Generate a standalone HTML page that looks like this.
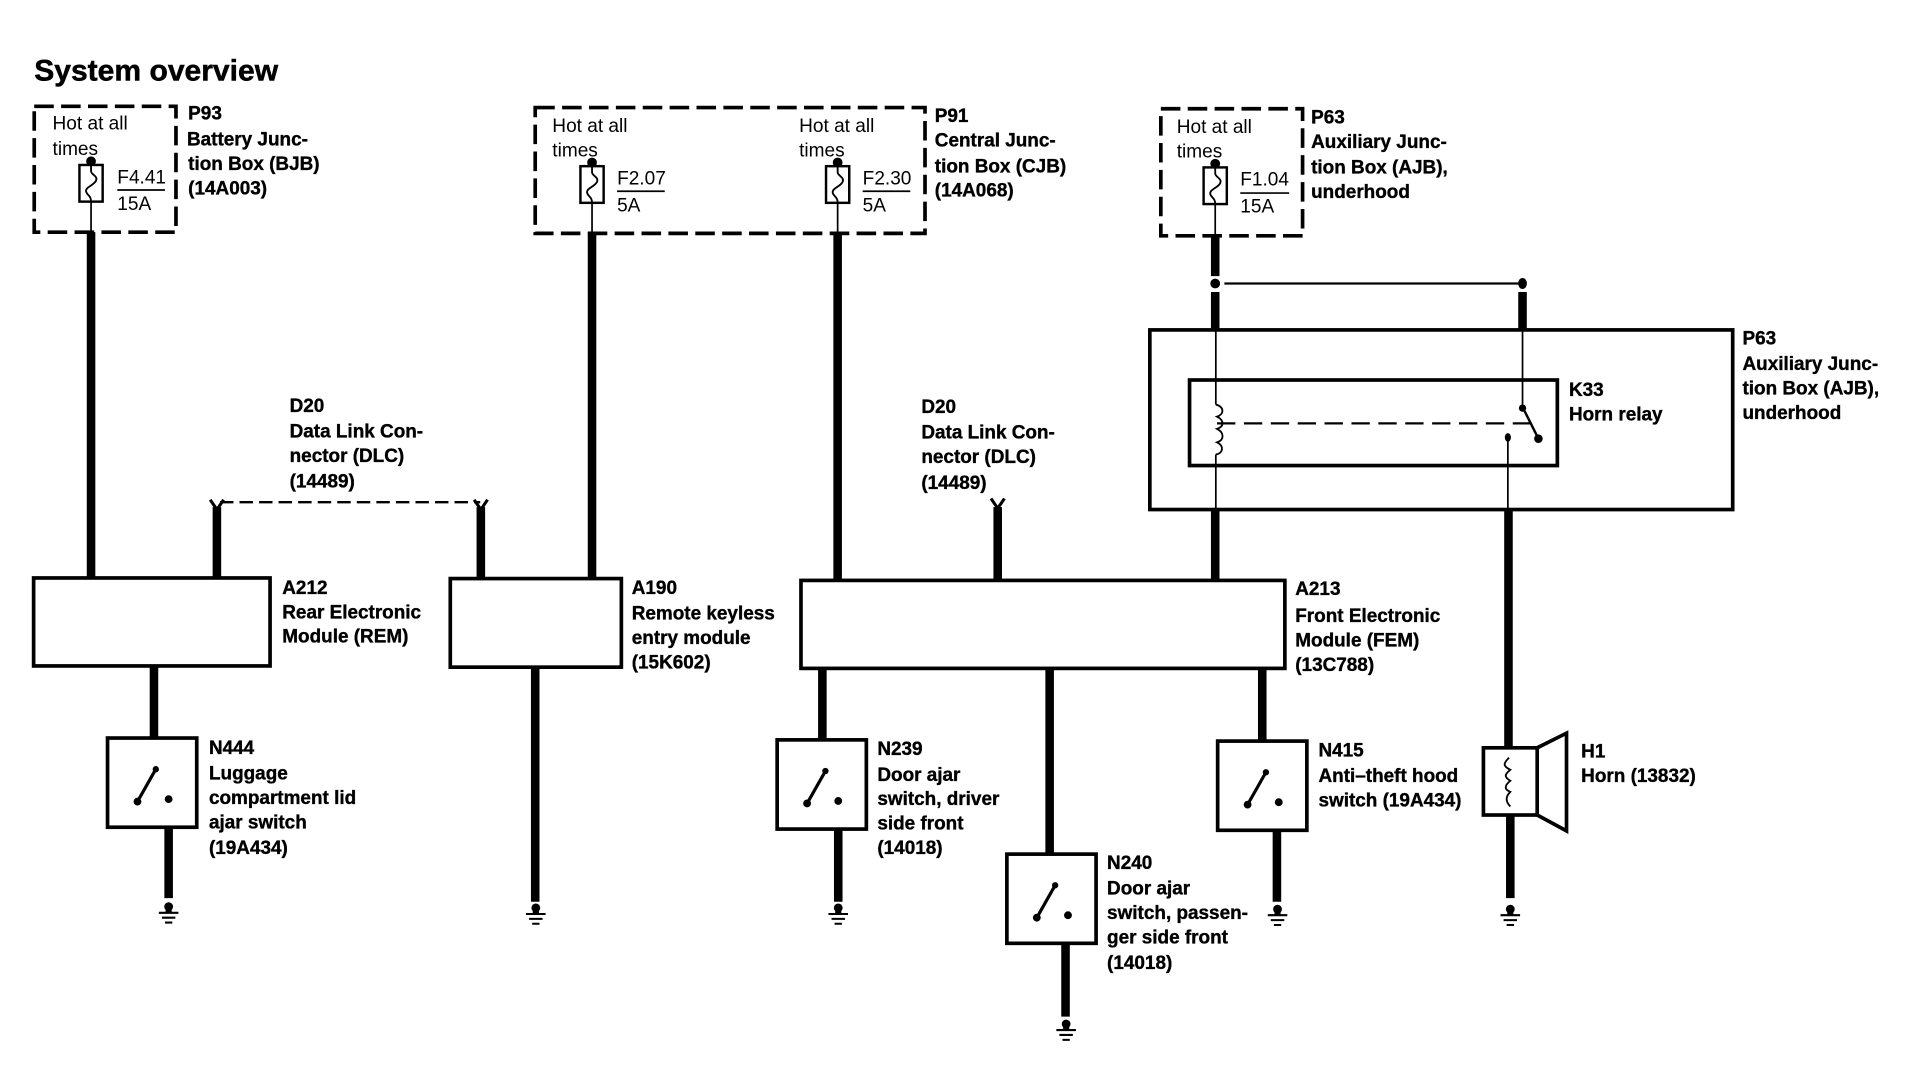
<!DOCTYPE html>
<html><head><meta charset="utf-8"><style>
html,body{margin:0;padding:0;background:#fff;width:1916px;height:1088px;overflow:hidden}
svg{display:block}
text{font-family:"Liberation Sans",sans-serif;font-size:15.6px;fill:#000}
text.b{font-weight:bold;font-size:15.5px;stroke:#000;stroke-width:.3px}
text.t{font-weight:bold;font-size:24.6px;stroke:#000;stroke-width:.4px}
.w{stroke:#000;stroke-width:7;fill:none}
.m{stroke:#000;stroke-width:1.4;fill:none}
.x{stroke:#000;stroke-width:3;fill:none}
.d{stroke:#000;stroke-width:3;fill:none;stroke-dasharray:16 6}
</style></head><body>
<svg width="1916" height="1088" viewBox="0 0 1568 890.4" xmlns="http://www.w3.org/2000/svg">
<defs>
<g id="fuse"><circle cx="0" cy="-3" r="4" fill="#000"/><rect x="-9.5" y="0" width="19" height="30" fill="#fff" stroke="#000" stroke-width="2"/><path d="M0 0V5C0 8 6 9 4 13C2 17 -5 18 -4 22C-3 25 0 25 0 30" fill="none" stroke="#000" stroke-width="1.5"/></g>
<g id="gnd"><circle cx="0" cy="-3" r="3.6" fill="#000"/><rect x="-2.5" y="-3" width="5" height="5" fill="#000"/><path d="M-8 2H8M-5.5 6H5.5M-3 10H3" stroke="#000" stroke-width="1.7" fill="none"/></g>
<g id="sw"><rect x="0" y="0" width="73" height="73" fill="#fff" stroke="#000" stroke-width="3"/><path d="M24.500 52L39.500 25.500" stroke="#000" stroke-width="2.600"/><circle cx="24.500" cy="52" r="3.200" fill="#000"/><circle cx="39.500" cy="25.500" r="2.600" fill="#000"/><circle cx="50" cy="50" r="3.200" fill="#000"/></g>
</defs>

<text class="t" x="28" y="66">System overview</text>

<!-- thick wires -->
<path class="w" d="M74.500 190V473M177.500 415V473M393.500 415V473M484.500 191V473M685.500 191V475M816.500 415V475M994.500 193V226M994.500 239V270M994.500 417V475M1246 239V270M1234.500 417V612M126 545V604M138 677V735M438 546V738M673 547V605M686 679V738M859 547V699M872 772V832M1033 547V606M1045 680V738M1236 667V735"/>

<!-- data link forks -->
<path d="M172 409L177.500 417L183 409M388 409L393.500 417L399 409M811 408L816.500 416L822 408" stroke="#000" stroke-width="2.500" fill="none"/>
<path d="M180 411H393" stroke="#000" stroke-width="2" stroke-dasharray="11 5" fill="none"/>

<!-- fused boxes -->
<rect class="d" x="28" y="87" width="116" height="103"/>
<rect class="d" x="438" y="88" width="319" height="103"/>
<rect class="d" x="950" y="89" width="116" height="104"/>

<path class="m" d="M74.500 165V190M484.500 166V191M685.500 166V191M994.500 167V193"/>
<use href="#fuse" x="74.500" y="135"/>
<use href="#fuse" x="484.500" y="136"/>
<use href="#fuse" x="685.500" y="136"/>
<use href="#fuse" x="994.500" y="137"/>

<path class="m" d="M96 155.500H135M505 156.500H544M706 156.500H745M1015 158H1055"/>
<text x="43" y="106">Hot at all</text><text x="43" y="127">times</text>
<text x="96" y="150">F4.41</text><text x="96" y="172">15A</text>
<text x="452" y="108">Hot at all</text><text x="452" y="128">times</text>
<text x="654" y="108">Hot at all</text><text x="654" y="128">times</text>
<text x="505" y="151">F2.07</text><text x="505" y="173">5A</text>
<text x="706" y="151">F2.30</text><text x="706" y="173">5A</text>
<text x="963" y="109">Hot at all</text><text x="963" y="129">times</text>
<text x="1015" y="152">F1.04</text><text x="1015" y="174">15A</text>

<!-- relay splice -->
<circle cx="994.500" cy="232" r="4" fill="#000"/>
<ellipse cx="1246" cy="232" rx="3.600" ry="4.500" fill="#000"/>
<path d="M1002 232H1243" stroke="#000" stroke-width="1.800" fill="none"/>

<!-- P63 box and relay -->
<rect class="x" x="941" y="270" width="477" height="147"/>
<rect class="x" x="973.500" y="311" width="301" height="70"/>
<path class="m" d="M995 270V331M995 372V417M1246 270V333M1234 358V417"/>
<path d="M995 331C1002 333 1002 339 996 341C1002 344 1002 349 996 351C1002 354 1002 360 996 362C1002 365 1001 371 995 372" fill="none" stroke="#000" stroke-width="1.500"/>
<path d="M996 346.500H1252" stroke="#000" stroke-width="1.800" stroke-dasharray="15 7" fill="none"/>
<path d="M1246 333L1259 359" stroke="#000" stroke-width="2"/>
<circle cx="1246" cy="334" r="3" fill="#000"/><circle cx="1259" cy="359" r="3.500" fill="#000"/>
<ellipse cx="1234" cy="358" rx="2.500" ry="3.500" fill="#000"/>

<!-- modules -->
<rect class="x" x="27.500" y="473" width="193.500" height="72"/>
<rect class="x" x="368.500" y="473.500" width="140" height="72.500"/>
<rect class="x" x="655.500" y="475" width="396" height="72"/>

<!-- switches -->
<use href="#sw" x="88" y="604"/>
<use href="#sw" x="636" y="605.500"/>
<use href="#sw" x="824" y="699"/>
<use href="#sw" x="996.500" y="606.500"/>

<!-- horn -->
<rect class="x" x="1214" y="612" width="44" height="55"/>
<path class="x" d="M1258 612L1282 600V680L1258 667"/>
<path d="M1235 620C1230 625 1230 627 1236 630C1231 634 1231 636 1236 639C1231 643 1231 646 1236 648C1232 652 1232 656 1236 660" fill="none" stroke="#000" stroke-width="1.500"/>

<!-- grounds -->
<use href="#gnd" x="138" y="745"/>
<use href="#gnd" x="438.500" y="746"/>
<use href="#gnd" x="686" y="746"/>
<use href="#gnd" x="872.500" y="841"/>
<use href="#gnd" x="1045.500" y="747"/>
<use href="#gnd" x="1236" y="747"/>

<!-- bold labels -->
<g>
<text class="b" x="154" y="98">P93</text><text class="b" x="153" y="119">Battery Junc-</text><text class="b" x="154" y="139">tion Box (BJB)</text><text class="b" x="154" y="159">(14A003)</text>
<text class="b" x="765" y="100">P91</text><text class="b" x="765" y="120">Central Junc-</text><text class="b" x="765" y="141">tion Box (CJB)</text><text class="b" x="765" y="161">(14A068)</text>
<text class="b" x="1073" y="101">P63</text><text class="b" x="1073" y="121">Auxiliary Junc-</text><text class="b" x="1073" y="142">tion Box (AJB),</text><text class="b" x="1073" y="162">underhood</text>
<text class="b" x="1426" y="282">P63</text><text class="b" x="1426" y="303">Auxiliary Junc-</text><text class="b" x="1426" y="323">tion Box (AJB),</text><text class="b" x="1426" y="343">underhood</text>
<text class="b" x="1284" y="324">K33</text><text class="b" x="1284" y="344">Horn relay</text>
<text class="b" x="237" y="337">D20</text><text class="b" x="237" y="358">Data Link Con-</text><text class="b" x="237" y="378">nector (DLC)</text><text class="b" x="237" y="399">(14489)</text>
<text class="b" x="754" y="338">D20</text><text class="b" x="754" y="359">Data Link Con-</text><text class="b" x="754" y="379">nector (DLC)</text><text class="b" x="754" y="400">(14489)</text>
<text class="b" x="231" y="486">A212</text><text class="b" x="231" y="506">Rear Electronic</text><text class="b" x="231" y="526">Module (REM)</text>
<text class="b" x="517" y="486">A190</text><text class="b" x="517" y="507">Remote keyless</text><text class="b" x="517" y="527">entry module</text><text class="b" x="517" y="547">(15K602)</text>
<text class="b" x="1060" y="487">A213</text><text class="b" x="1060" y="509">Front Electronic</text><text class="b" x="1060" y="529">Module (FEM)</text><text class="b" x="1060" y="549">(13C788)</text>
<text class="b" x="171" y="617">N444</text><text class="b" x="171" y="638">Luggage</text><text class="b" x="171" y="658">compartment lid</text><text class="b" x="171" y="678">ajar switch</text><text class="b" x="171" y="699">(19A434)</text>
<text class="b" x="718" y="618">N239</text><text class="b" x="718" y="639">Door ajar</text><text class="b" x="718" y="659">switch, driver</text><text class="b" x="718" y="679">side front</text><text class="b" x="718" y="699">(14018)</text>
<text class="b" x="906" y="711">N240</text><text class="b" x="906" y="732">Door ajar</text><text class="b" x="906" y="752">switch, passen-</text><text class="b" x="906" y="772">ger side front</text><text class="b" x="906" y="793">(14018)</text>
<text class="b" x="1079" y="619">N415</text><text class="b" x="1079" y="640">Anti–theft hood</text><text class="b" x="1079" y="660">switch (19A434)</text>
<text class="b" x="1294" y="620">H1</text><text class="b" x="1294" y="640">Horn (13832)</text>
</g>
</svg>
</body></html>
